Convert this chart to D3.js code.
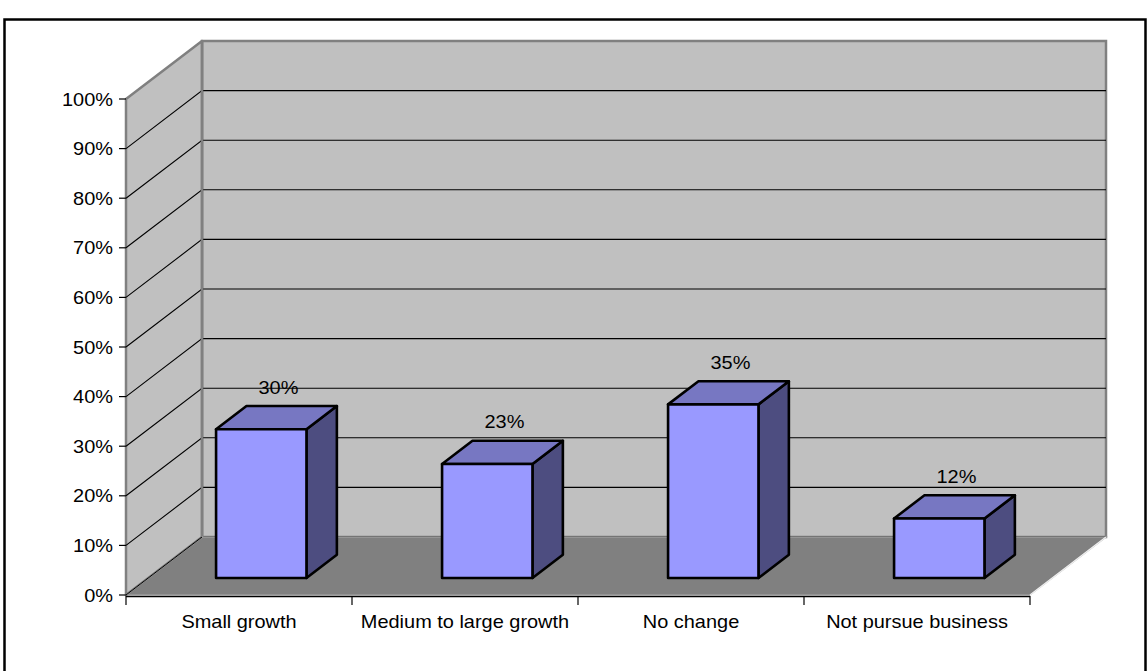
<!DOCTYPE html>
<html><head><meta charset="utf-8">
<script src="https://cdn.jsdelivr.net/npm/d3@7"></script>
<style>html,body{margin:0;padding:0;background:#fff;}svg{display:block;}</style>
</head><body>
<svg id="c" width="1148" height="671"></svg>
<script>
const categories = ["Small growth", "Medium to large growth", "No change", "Not pursue business"];
const values = [0.30, 0.23, 0.35, 0.12];
const valueLabels = ["30%", "23%", "35%", "12%"];
const yTicks = [0, 0.1, 0.2, 0.3, 0.4, 0.5, 0.6, 0.7, 0.8, 0.9, 1.0];

const svg = d3.select("#c");
const FONT = "'Liberation Sans', Arial, sans-serif";

// frame
svg.append("rect").attr("x", 4.5).attr("y", 19.5).attr("width", 1141).attr("height", 660)
  .attr("fill", "#fff").attr("stroke", "#000").attr("stroke-width", 2.5);

// 3D projection
const x0 = 126, x1 = 1030;
const DX = 76, DY = 58;
const x = d3.scaleBand().domain(categories).range([x0, x1]).paddingInner(0).paddingOuter(0);
const y = d3.scaleLinear().domain([0, 1]).range([595, 99]);
const P = (xf, v, z) => [xf + z * DX, y(v) - z * DY];
const poly = pts => pts.map(p => p.join(",")).join(" ");

const g = svg.append("g");

// back wall
g.append("polygon").attr("points", poly([P(x0,0,1), P(x1,0,1), P(x1,1,1), P(x0,1,1)]))
  .attr("fill", "#c0c0c0").attr("stroke", "#808080").attr("stroke-width", 2.5);
// left wall
g.append("polygon").attr("points", poly([P(x0,0,0), P(x0,0,1), P(x0,1,1), P(x0,1,0)]))
  .attr("fill", "#c0c0c0").attr("stroke", "#808080").attr("stroke-width", 2.5).attr("stroke-linejoin","round");

// gridlines
yTicks.forEach(t => {
  if (t === 1) return;
  const a = P(x0, t, 0), b = P(x0, t, 1), c = P(x1, t, 1);
  g.append("polyline").attr("points", poly([a, b, c])).attr("fill", "none")
    .attr("stroke", "#000").attr("stroke-width", 1.1);
});
g.append("line").attr("x1", P(x0,0,1)[0]).attr("y1", P(x0,0,1)[1]).attr("x2", P(x0,1,1)[0]).attr("y2", P(x0,1,1)[1])
  .attr("stroke", "#808080").attr("stroke-width", 2.5);

// floor
g.append("polygon").attr("points", poly([P(x0,0,0), P(x0,0,1), P(x1,0,1), P(x1,0,0)]))
  .attr("fill", "#808080").attr("stroke", "#a8a8a8").attr("stroke-width", 1.2);
g.append("line").attr("x1", P(x0,0,0)[0]).attr("y1", P(x0,0,0)[1]).attr("x2", P(x0,0,1)[0]).attr("y2", P(x0,0,1)[1])
  .attr("stroke", "#000").attr("stroke-width", 1);
g.append("line").attr("x1", P(x1,0,0)[0]).attr("y1", P(x1,0,0)[1]).attr("x2", P(x1,0,1)[0]).attr("y2", P(x1,0,1)[1])
  .attr("stroke", "#f0f0f0").attr("stroke-width", 1.2);

// bars
const zF = 0.293, zB = 0.693;
const bw = x.bandwidth() * 0.4;
categories.forEach((c, i) => {
  const v = values[i];
  const xl = x(c) + (x.bandwidth() - bw) / 2;
  const xr = xl + bw;
  const fBL = P(xl, 0, zF), fBR = P(xr, 0, zF), fTR = P(xr, v, zF), fTL = P(xl, v, zF);
  const bTL = P(xl, v, zB), bTR = P(xr, v, zB), bBR = P(xr, 0, zB);
  const st = {stroke: "#000", "stroke-width": 2.6, "stroke-linejoin": "round"};
  const side = g.append("polygon").attr("points", poly([fBR, bBR, bTR, fTR])).attr("fill", "#4d4d80");
  const top = g.append("polygon").attr("points", poly([fTL, fTR, bTR, bTL])).attr("fill", "#7777c2");
  const front = g.append("polygon").attr("points", poly([fBL, fBR, fTR, fTL])).attr("fill", "#9999ff");
  [side, top, front].forEach(s => Object.entries(st).forEach(([k, val]) => s.attr(k, val)));
  const mid = P(xl + bw / 2, v, (zF + zB) / 2);
  const lx = mid[0] + 2, ly = P(xl, v, zB)[1] - 12.5;
  g.append("text").attr("transform", `translate(${lx},${ly}) scale(1.14,1)`)
    .attr("text-anchor", "middle").attr("font-family", FONT).attr("font-size", 17.5)
    .attr("fill", "#000").text(valueLabels[i]);
});

// x axis
g.append("line").attr("x1", x0).attr("x2", x1).attr("y1", 596.5).attr("y2", 596.5)
  .attr("stroke", "#000").attr("stroke-width", 1.3);
const xTickPos = categories.map(c => x(c)).concat([x1]);
xTickPos.forEach(p => {
  g.append("line").attr("x1", p).attr("x2", p).attr("y1", 596).attr("y2", 605)
    .attr("stroke", "#000").attr("stroke-width", 1.2);
});
categories.forEach(c => {
  g.append("text").attr("transform", `translate(${x(c) + x.bandwidth() / 2},628) scale(1.14,1)`)
    .attr("text-anchor", "middle").attr("font-family", FONT).attr("font-size", 17.5)
    .attr("fill", "#000").text(c);
});

// y axis ticks & labels
const fmt = d3.format(".0%");
yTicks.forEach(t => {
  g.append("line").attr("x1", x0 - 7).attr("x2", x0).attr("y1", y(t)).attr("y2", y(t))
    .attr("stroke", "#000").attr("stroke-width", 1.2);
  g.append("text").attr("transform", `translate(113,${y(t) + 6.5}) scale(1.14,1)`)
    .attr("text-anchor", "end").attr("font-family", FONT).attr("font-size", 17.5)
    .attr("fill", "#000").text(fmt(t));
});
</script>
</body></html>
